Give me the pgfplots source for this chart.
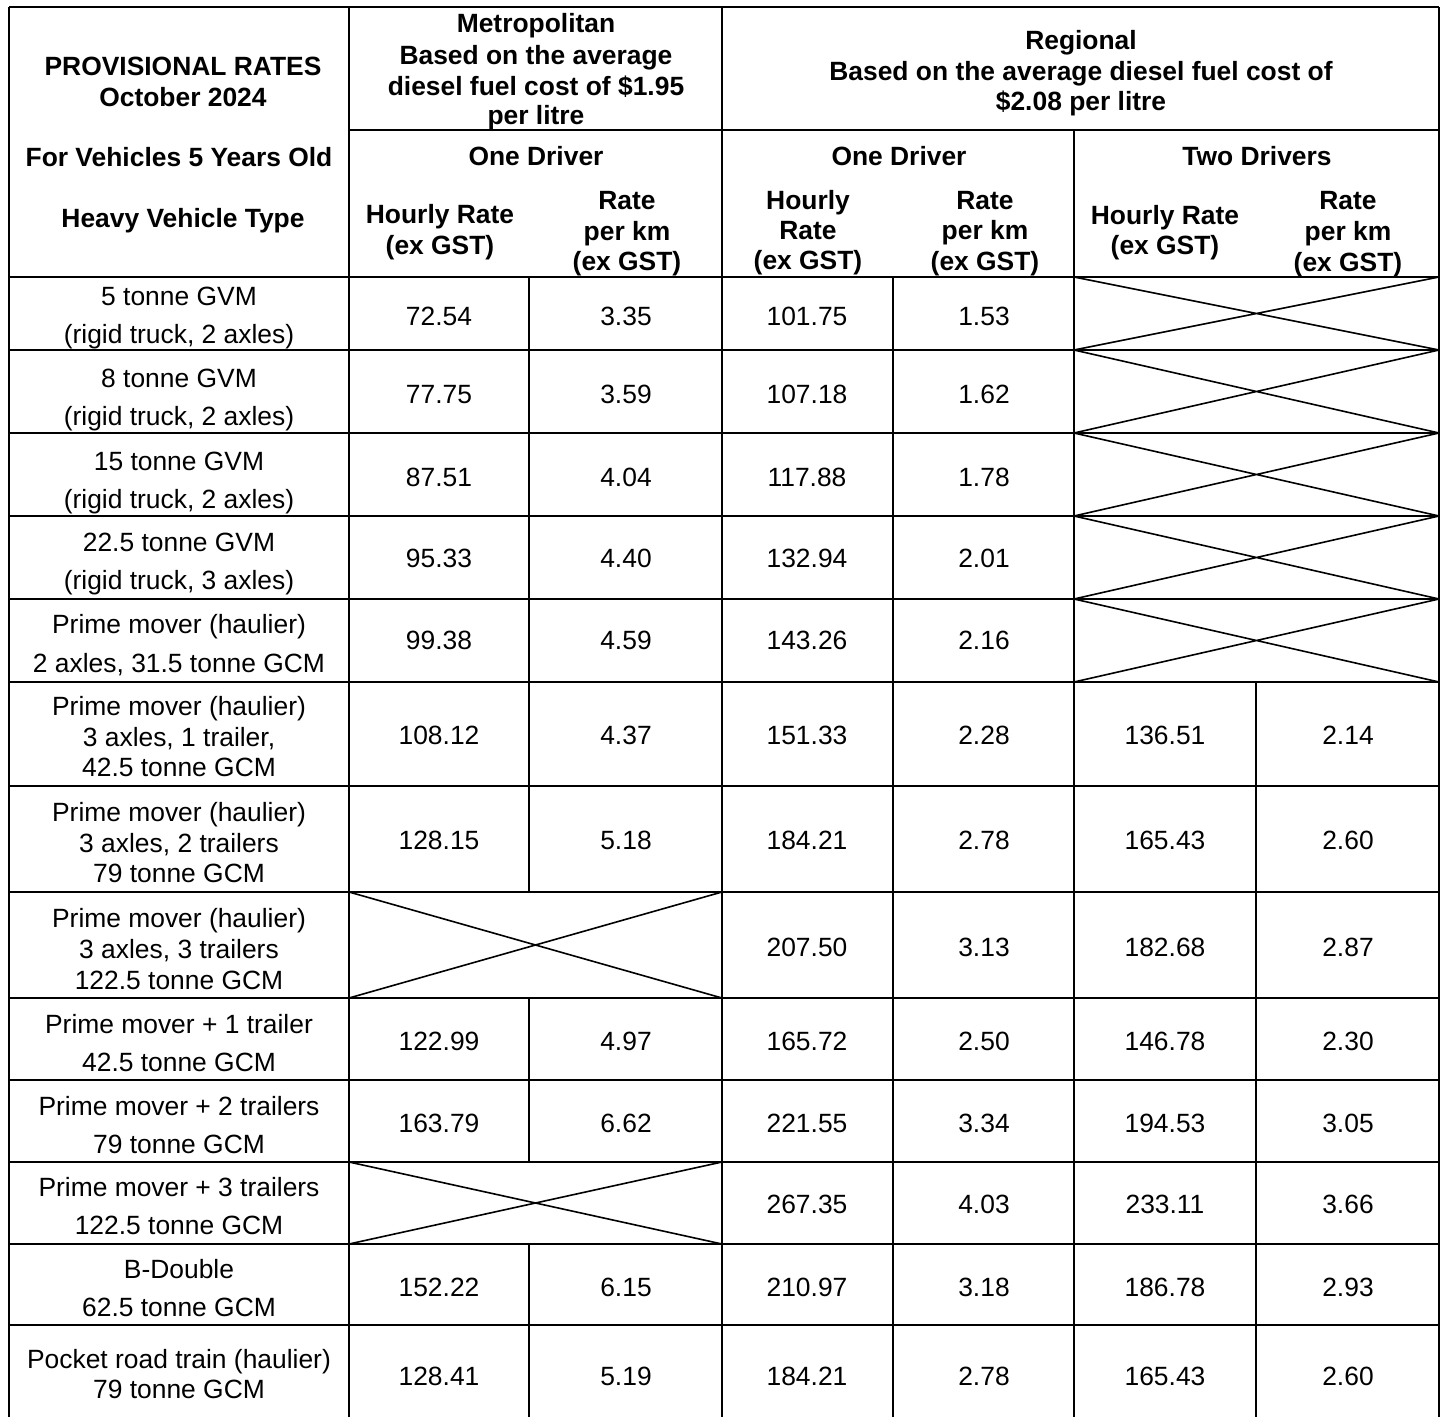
\documentclass[border=0pt]{standalone}
\usepackage{fontspec}
\setmainfont{Liberation Sans}
\usepackage{pgfplots}
\usepackage{pgfplotstable}
\pgfplotsset{compat=1.18}

% header text (bold), positions in pixel units of the page
\pgfplotstableread[col sep=semicolon, row sep=\\]{
x;y;t\\
183;66;PROVISIONAL RATES\\
183;97;October 2024\\
179;157;For Vehicles 5 Years Old\\
183;218;Heavy Vehicle Type\\
536;23;Metropolitan\\
536;55;Based on the average\\
536;86;diesel fuel cost of \$1.95\\
536;115;per litre\\
1081;40;Regional\\
1081;71;Based on the average diesel fuel cost of\\
1081;101;\$2.08 per litre\\
536;156;One Driver\\
899;156;One Driver\\
1257;156;Two Drivers\\
440;214;Hourly Rate\\
440;245;(ex GST)\\
627;200;Rate\\
627;231;per km\\
627;261;(ex GST)\\
808;200;Hourly\\
808;230;Rate\\
808;260;(ex GST)\\
985;200;Rate\\
985;230;per km\\
985;261;(ex GST)\\
1165;215;Hourly Rate\\
1165;245;(ex GST)\\
1348;200;Rate\\
1348;231;per km\\
1348;262;(ex GST)\\
}\headtab

% vehicle types
\pgfplotstableread[col sep=semicolon, row sep=\\]{
x;y;t\\
179;296;5 tonne GVM\\
179;334;(rigid truck, 2 axles)\\
179;378;8 tonne GVM\\
179;416;(rigid truck, 2 axles)\\
179;461;15 tonne GVM\\
179;499;(rigid truck, 2 axles)\\
179;542;22.5 tonne GVM\\
179;580;(rigid truck, 3 axles)\\
179;624;Prime mover (haulier)\\
179;663;2 axles, 31.5 tonne GCM\\
179;706;Prime mover (haulier)\\
179;737;3 axles, 1 trailer,\\
179;767;42.5 tonne GCM\\
179;812;Prime mover (haulier)\\
179;843;3 axles, 2 trailers\\
179;873;79 tonne GCM\\
179;918;Prime mover (haulier)\\
179;949;3 axles, 3 trailers\\
179;980;122.5 tonne GCM\\
179;1024;Prime mover + 1 trailer\\
179;1062;42.5 tonne GCM\\
179;1106;Prime mover + 2 trailers\\
179;1144;79 tonne GCM\\
179;1187;Prime mover + 3 trailers\\
179;1225;122.5 tonne GCM\\
179;1269;B-Double\\
179;1307;62.5 tonne GCM\\
179;1359;Pocket road train (haulier)\\
179;1389;79 tonne GCM\\
}\typetab

% rates: metro hourly/km, regional one driver hourly/km, two drivers hourly/km
\pgfplotstableread[col sep=semicolon, row sep=\\]{
y;mh;mk;rh;rk;th;tk\\
316;72.54;3.35;101.75;1.53;;\\
394;77.75;3.59;107.18;1.62;;\\
477;87.51;4.04;117.88;1.78;;\\
558;95.33;4.40;132.94;2.01;;\\
640;99.38;4.59;143.26;2.16;;\\
735;108.12;4.37;151.33;2.28;136.51;2.14\\
840;128.15;5.18;184.21;2.78;165.43;2.60\\
947;;;207.50;3.13;182.68;2.87\\
1041;122.99;4.97;165.72;2.50;146.78;2.30\\
1123;163.79;6.62;221.55;3.34;194.53;3.05\\
1204;;;267.35;4.03;233.11;3.66\\
1287;152.22;6.15;210.97;3.18;186.78;2.93\\
1376;128.41;5.19;184.21;2.78;165.43;2.60\\
}\ratetab

\pgfplotsset{
  txt/.style={only marks, mark=text, text mark={},
    point meta=explicit symbolic, nodes near coords,
    every node near coord/.append style={anchor=center, inner sep=0pt,
      text height=9.45pt, text depth=0pt, font=\fontsize{13.2}{15}\selectfont}},
  bold txt/.style={txt, every node near coord/.append style={font=\fontsize{13.2}{15}\selectfont\bfseries}},
  rule/.style={black, line width=0.9pt, mark=none, unbounded coords=jump},
}

\begin{document}
\begin{tikzpicture}
\begin{axis}[
  scale only axis, width=723.5pt, height=708.5pt,
  xmin=0, xmax=1447, ymin=0, ymax=1417, y dir=reverse,
  hide axis, clip=false,
]
\addplot[draw=none, mark=none] coordinates {(0,0) (1447,1417)};

% horizontal rules
\addplot[rule] coordinates {
  (9,7) (1439,7) (nan,nan)
  (349,130) (1439,130) (nan,nan)
  (9,277) (1439,277) (nan,nan)
  (9,350) (1439,350) (nan,nan)
  (9,433) (1439,433) (nan,nan)
  (9,516) (1439,516) (nan,nan)
  (9,599) (1439,599) (nan,nan)
  (9,682) (1439,682) (nan,nan)
  (9,786) (1439,786) (nan,nan)
  (9,892) (1439,892) (nan,nan)
  (9,998) (1439,998) (nan,nan)
  (9,1080) (1439,1080) (nan,nan)
  (9,1162) (1439,1162) (nan,nan)
  (9,1244) (1439,1244) (nan,nan)
  (9,1325) (1439,1325)
};
% vertical rules
\addplot[rule] coordinates {
  (9,7) (9,1417) (nan,nan)
  (349,7) (349,1417) (nan,nan)
  (722,7) (722,1417) (nan,nan)
  (1074,130) (1074,1417) (nan,nan)
  (1439,7) (1439,1417) (nan,nan)
  (529,277) (529,892) (nan,nan)
  (529,998) (529,1162) (nan,nan)
  (529,1244) (529,1417) (nan,nan)
  (893,277) (893,1417) (nan,nan)
  (1256,682) (1256,1417)
};
% crossed-out cells
\addplot[rule, line width=0.8pt] coordinates {
  (1074,277) (1439,350) (nan,nan) (1074,350) (1439,277) (nan,nan)
  (1074,350) (1439,433) (nan,nan) (1074,433) (1439,350) (nan,nan)
  (1074,433) (1439,516) (nan,nan) (1074,516) (1439,433) (nan,nan)
  (1074,516) (1439,599) (nan,nan) (1074,599) (1439,516) (nan,nan)
  (1074,599) (1439,682) (nan,nan) (1074,682) (1439,599) (nan,nan)
  (349,892) (722,998) (nan,nan) (349,998) (722,892) (nan,nan)
  (349,1162) (722,1244) (nan,nan) (349,1244) (722,1162)
};

\addplot[bold txt] table[x=x, y=y, meta=t] {\headtab};
\addplot[txt] table[x=x, y=y, meta=t] {\typetab};
\addplot[txt] table[x expr=439, y=y, meta=mh] {\ratetab};
\addplot[txt] table[x expr=626, y=y, meta=mk] {\ratetab};
\addplot[txt] table[x expr=807, y=y, meta=rh] {\ratetab};
\addplot[txt] table[x expr=984, y=y, meta=rk] {\ratetab};
\addplot[txt] table[x expr=1165, y=y, meta=th] {\ratetab};
\addplot[txt] table[x expr=1348, y=y, meta=tk] {\ratetab};
\end{axis}
\end{tikzpicture}
\end{document}
